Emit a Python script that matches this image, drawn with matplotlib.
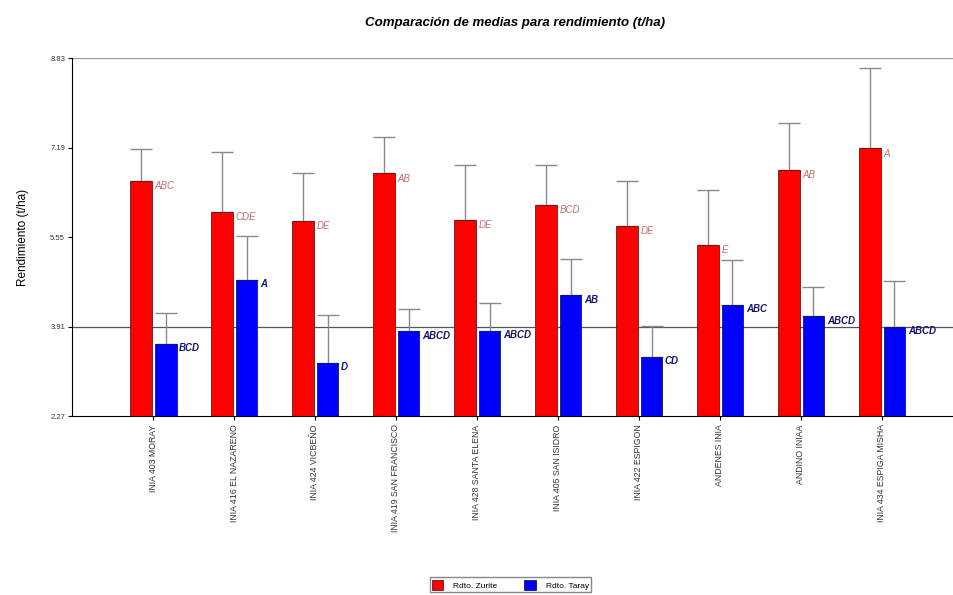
import numpy as np
import matplotlib.pyplot as plt

plt.rcParams['font.family'] = ['Liberation Sans', 'DejaVu Sans']

variedades = ["INIA 403 MORAY", "INIA 416 EL NAZARENO", "INIA 424 VICBEÑO",
              "INIA 419 SAN FRANCISCO", "INIA 428 SANTA ELENA", "INIA 405 SAN ISIDRO",
              "INIA 422 ESPIGON", "ANDENES INIA", "ANDINO INIAA", "INIA 434 ESPIGA MISHA"]

# medias y límite superior del error (t/ha)
zurite = [6.58, 6.01, 5.85, 6.72, 5.87, 6.14, 5.76, 5.41, 6.78, 7.18]
zurite_sup = [7.16, 7.11, 6.72, 7.39, 6.87, 6.87, 6.58, 6.42, 7.64, 8.64]
taray = [3.59, 4.77, 3.24, 3.82, 3.83, 4.48, 3.36, 4.31, 4.10, 3.90]
taray_sup = [4.15, 5.56, 4.12, 4.23, 4.34, 5.15, 3.92, 5.12, 4.63, 4.74]

letras_zurite = ["ABC", "CDE", "DE", "AB", "DE", "BCD", "DE", "E", "AB", "A"]
letras_taray = ["BCD", "A", "D", "ABCD", "ABCD", "AB", "CD", "ABC", "ABCD", "ABCD"]

yticks = [2.27, 3.91, 5.55, 7.19, 8.83]

x = np.arange(len(variedades))
w = 0.27

fig = plt.figure(figsize=(9.54, 5.95), dpi=100)
ax = fig.add_axes([0.0755, 0.3008, 0.9245, 0.6017])

ax.axhline(3.91, color='#555555', lw=0.9, zorder=1)
ax.axhline(8.83, color='#999999', lw=0.9, zorder=1)

xz = x - 0.145
xt = x + 0.155
ax.bar(xz, np.array(zurite) - 2.27, w, bottom=2.27, color='#ff0000',
       edgecolor='#550000', lw=0.5, zorder=2, label='Rdto. Zurite')
ax.bar(xt, np.array(taray) - 2.27, w, bottom=2.27, color='#0000ff',
       edgecolor='#000055', lw=0.5, zorder=2, label='Rdto. Taray')

ez = np.array(zurite_sup) - np.array(zurite)
et = np.array(taray_sup) - np.array(taray)
ax.errorbar(xz, zurite, yerr=[np.zeros_like(ez), ez], fmt='none',
            ecolor='#8a8a8a', elinewidth=1, capsize=8, capthick=1, zorder=1.5)
ax.errorbar(xt, taray, yerr=[np.zeros_like(et), et], fmt='none',
            ecolor='#8a8a8a', elinewidth=1, capsize=8, capthick=1, zorder=1.5)

for i in range(len(x)):
    ax.text(xz[i] + w / 2 + 0.03, zurite[i] - 0.1, letras_zurite[i],
            color='#c46e6e', fontsize=7, style='italic', va='center', ha='left')
    ax.text(xt[i] + w / 2 + 0.03, taray[i] - 0.08, letras_taray[i],
            color='#15156b', fontsize=7, style='italic', weight='bold',
            va='center', ha='left')

ax.set_xlim(-1.0, 9.89)
ax.set_ylim(2.27, 8.83)
ax.set_yticks(yticks)
ax.set_yticklabels([f"{v:.2f}" for v in yticks], fontsize=5.5, color='#333333')
ax.set_xticks(x)
ax.set_xticklabels(variedades, rotation=90, fontsize=6.3, color='#333333')
ax.tick_params(axis='both', length=3, width=0.8, pad=2)
ax.tick_params(axis='x', pad=3)

ax.spines['top'].set_visible(False)
ax.spines['right'].set_visible(False)
ax.spines['left'].set_linewidth(0.8)
ax.spines['bottom'].set_linewidth(0.8)

ax.set_ylabel("Rendimiento (t/ha)", fontsize=8.5, labelpad=15)
fig.text(0.54, 0.961, "Comparación de medias para rendimiento (t/ha)",
         ha='center', va='center', fontsize=9.5, weight='bold', style='italic')

fig.legend(loc='center', bbox_to_anchor=(0.535, 0.017), ncol=2, fontsize=6,
           frameon=True, fancybox=False, edgecolor='#888888', framealpha=1,
           handlelength=1.4, handleheight=1.6, handletextpad=1.2,
           columnspacing=3.2, borderpad=0.25, borderaxespad=0)

fig.savefig("out.png", dpi=100)
